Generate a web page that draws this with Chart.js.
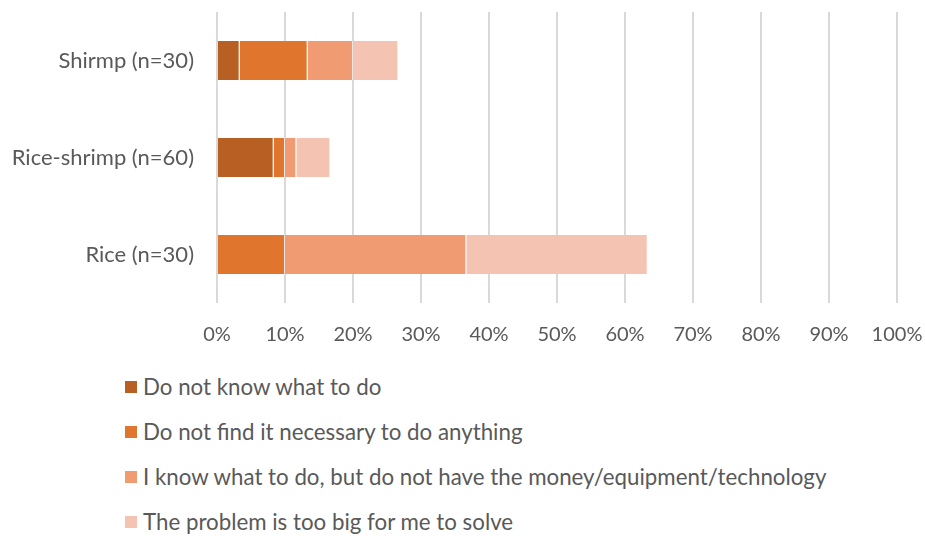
<!DOCTYPE html>
<html>
<head>
<meta charset="utf-8">
<script src="https://cdn.jsdelivr.net/npm/chart.js@4"></script>
<style>
  html, body { margin: 0; overflow: hidden; background: #fff; font-family: Lato, 'Open Sans', sans-serif; }
  #wrap { position: relative; width: 925px; height: 360px; }
  #legend { margin: 4px 0 0 125px; padding: 0; list-style: none; }
  #legend li { display: flex; align-items: center; height: 45px; font-size: 22.3px; color: #595959; }
  #legend li span { display: inline-block; width: 12px; height: 12px; margin-right: 6px; }
</style>
</head>
<body>
<div id="wrap"><canvas id="responseChart"></canvas></div>
<ul id="legend"></ul>
<script>
// Farm types on the y axis (top to bottom)
const categories = ['Shirmp (n=30)', 'Rice-shrimp (n=60)', 'Rice (n=30)'];

// Share of respondents (%) per answer, same order as categories
const notKnow      = [3.33, 8.33, 0];
const notNecessary = [10, 1.67, 10];
const noMeans      = [6.67, 1.67, 26.67];
const tooBig       = [6.67, 5, 26.67];

const seriesNames = [
    'Do not know what to do',
    'Do not find it necessary to do anything',
    'I know what to do, but do not have the money/equipment/technology',
    'The problem is too big for me to solve'
];
const seriesColors = ['#B86024', '#E0752D', '#F19B72', '#F5C3B1'];
const xTicks = [0, 10, 20, 30, 40, 50, 60, 70, 80, 90, 100];

const seriesData = [notKnow, notNecessary, noMeans, tooBig];

const datasets = seriesData.map((values, i) => ({
    label: seriesNames[i],
    data: values,
    backgroundColor: seriesColors[i],
    borderColor: 'rgba(255, 255, 255, 0.35)',
    borderWidth: { top: 0, bottom: 0, left: 0, right: 1 },
    borderSkipped: false,
    categoryPercentage: 1,
    barPercentage: 0.4
}));

const ctx = document.getElementById('responseChart').getContext('2d');

new Chart(ctx, {
    type: 'bar',
    data: { labels: categories, datasets: datasets },
    options: {
        indexAxis: 'y',
        responsive: true,
        maintainAspectRatio: false,
        animation: false,
        layout: { padding: { top: 12, right: 28, left: 0, bottom: 0 } },
        plugins: {
            legend: { display: false },
            tooltip: { enabled: false }
        },
        scales: {
            x: {
                stacked: true,
                min: 0,
                max: 100,
                afterBuildTicks: axis => { axis.ticks = xTicks.map(v => ({ value: v })); },
                // fixed axis height; the layout padding alone sets the right edge
                afterFit: axis => {
                    axis.height = 57;
                    axis.paddingLeft = 0;
                    axis.paddingRight = 0;
                },
                ticks: {
                    padding: 20,
                    color: '#595959',
                    font: { family: 'Lato', size: 20 },
                    callback: v => v + '%'
                },
                grid: { color: '#D9D9D9', lineWidth: 2, drawTicks: false },
                border: { display: false }
            },
            y: {
                stacked: true,
                // fixed label column; drop the label-based top/bottom padding
                afterFit: axis => {
                    axis.width = 217;
                    axis.paddingTop = 0;
                    axis.paddingBottom = 0;
                },
                ticks: {
                    padding: 23,
                    color: '#595959',
                    font: { family: 'Lato', size: 22 }
                },
                grid: { display: false, drawTicks: false },
                border: { display: false }
            }
        }
    }
});

// Vertical legend below the chart
const legendEl = document.getElementById('legend');
seriesNames.forEach((name, i) => {
    const li = document.createElement('li');
    const box = document.createElement('span');
    box.style.background = seriesColors[i];
    li.appendChild(box);
    li.appendChild(document.createTextNode(name));
    legendEl.appendChild(li);
});
</script>
</body>
</html>
